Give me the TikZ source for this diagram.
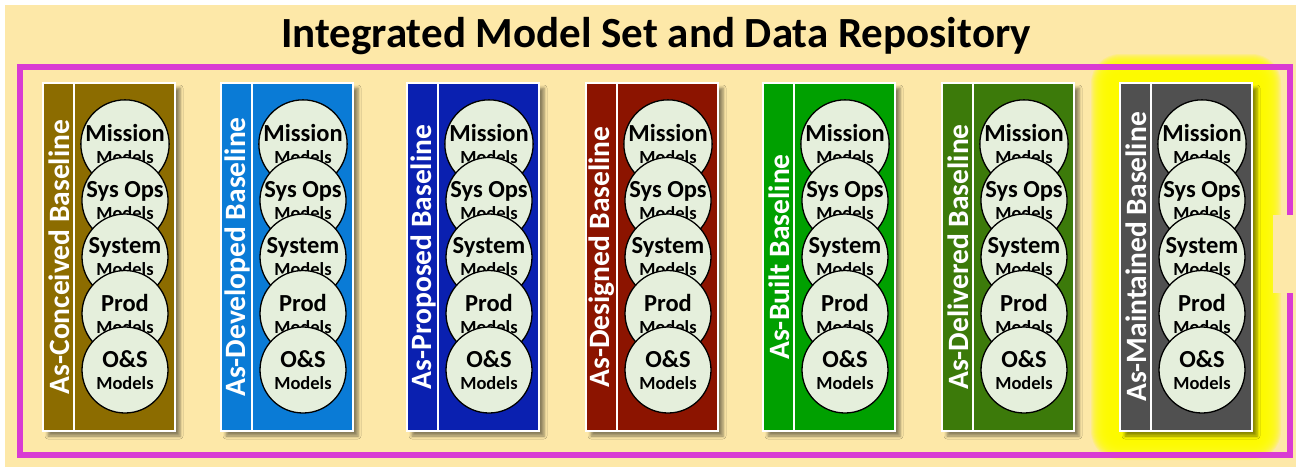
\documentclass[tikz,border=0pt]{standalone}
\usepackage{fontspec}
\setmainfont{Carlito}
\usetikzlibrary{shadows.blur}

\definecolor{pagebg}{HTML}{FDE8A8}
\definecolor{frame}{HTML}{D93BD3}
\definecolor{glow}{HTML}{FFFF00}
\definecolor{disc}{HTML}{E5EFDC}
\definecolor{cOlive}{HTML}{8C6C00}
\definecolor{cSky}{HTML}{0A7BD6}
\definecolor{cNavy}{HTML}{0A20B0}
\definecolor{cMaroon}{HTML}{8C1400}
\definecolor{cGreen}{HTML}{00A000}
\definecolor{cForest}{HTML}{3C7A0A}
\definecolor{cSlate}{HTML}{505050}

\tikzset{
  column/.style={draw=white, line width=1.5pt,
    blur shadow={shadow xshift=5pt, shadow yshift=-5pt, shadow blur radius=3pt, shadow opacity=45}},
  divider/.style={draw=white, line width=1.5pt},
  sidelabel/.style={rotate=90, text=white, font=\bfseries\fontsize{29.5}{30}\selectfont, inner sep=0pt},
  modeldisc/.style={circle, draw=black, line width=1.3pt, fill=disc, minimum size=86pt,
    inner sep=0pt, align=center, font=\bfseries\fontsize{18.5}{22}\selectfont},
  title/.style={font=\bfseries\fontsize{43}{43}\selectfont, inner sep=0pt, anchor=base}
}
\newcommand{\disctext}[1]{{\fontsize{24.5}{22}\selectfont #1}\\Models}

\begin{document}
\begin{tikzpicture}[x=1pt,y=-1pt]
\useasboundingbox (0,0) rectangle (1296,467);
\fill[pagebg] (5,5) rectangle (1296,467);

% title
\node[title] (title) at (656,47) {Integrated Model Set and Data Repository};

% glow behind the last baseline column
\foreach \d in {0,...,29}
  \fill[glow, opacity=0.18, rounded corners=\d pt]
    (1120-\d,83-\d) rectangle (1252+\d,431+\d);

% repository frame
\draw[frame, line width=6pt] (20,67) rectangle (1289.5,455);
\fill[pagebg] (1273,215) rectangle (1296,293);

% baseline columns
\foreach \i/\x/\col/\name in {
  1/43/cOlive/As-Conceived Baseline,
  2/221/cSky/As-Developed Baseline,
  3/407/cNavy/As-Proposed Baseline,
  4/586/cMaroon/As-Designed Baseline,
  5/763/cGreen/As-Built Baseline,
  6/942/cForest/As-Delivered Baseline,
  7/1120/cSlate/As-Maintained Baseline}{
  \path[column, fill=\col] (\x,83) rectangle (\x+132,431);
  \coordinate (top\i) at (\x+31,83);
  \coordinate (bot\i) at (\x+31,431);
  \draw[divider] (top\i) -- (bot\i);
  \node[sidelabel] (lab\i) at (\x+16,257) {\name};
  \node[modeldisc] (mis\i) at (\x+82,144) {\disctext{Mission}};
  \node[modeldisc] (ops\i) at (\x+82,200.5) {\disctext{Sys Ops}};
  \node[modeldisc] (sys\i) at (\x+82,257) {\disctext{System}};
  \node[modeldisc] (prd\i) at (\x+82,313.5) {\disctext{Prod}};
  \node[modeldisc] (ons\i) at (\x+82,370) {\disctext{O\&S}};
}
\end{tikzpicture}
\end{document}
